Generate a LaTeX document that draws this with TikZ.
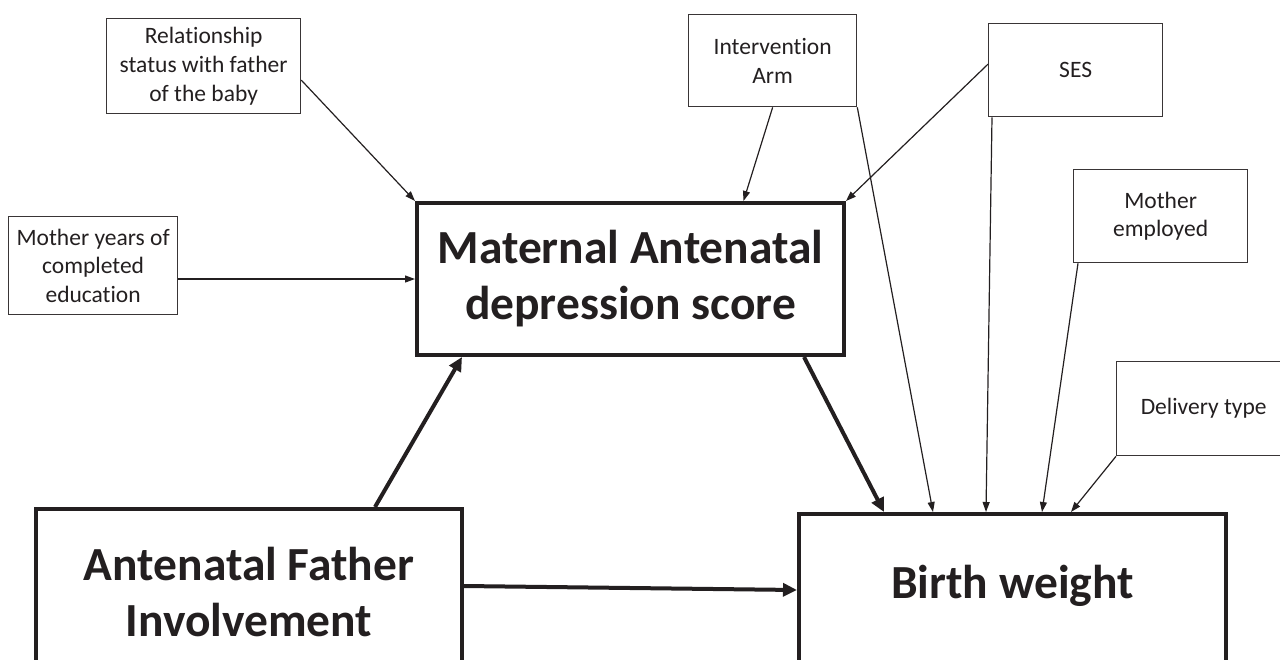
\documentclass[tikz,border=0pt]{standalone}
\usepackage{fontspec}
\setmainfont[Ligatures={NoCommon}]{Carlito}
\usetikzlibrary{arrows.meta,calc}
\definecolor{ink}{HTML}{231F20}
\tikzset{
  smallbox/.style={draw=ink!90, line width=1.3pt, text=ink, align=center, inner sep=0pt,
    font=\fontsize{23.5}{28.7}\selectfont, anchor=north west},
  bigbox/.style={draw=ink, line width=4pt, text=ink, align=center, inner sep=0pt,
    font=\fontsize{47.5}{56}\selectfont\bfseries, anchor=north west},
  thin/.style={draw=ink, line width=1.2pt, -{Triangle[length=10pt,width=7pt]}},
  thick/.style={draw=ink, line width=4pt, -{Triangle[length=14pt,width=13pt]}}
}
\begin{document}
\begin{tikzpicture}[x=1pt,y=-1pt]
\useasboundingbox (0,0) rectangle (1280,659);
% small boxes
\node[smallbox, minimum width=194pt, minimum height=95pt] (rel) at (106,18) {Relationship\\status with father\\of the baby};
\node[smallbox, minimum width=169pt, minimum height=98pt] (edu) at (8,216) {Mother years of\\completed\\education};
\node[smallbox, minimum width=168pt, minimum height=92pt] (int) at (688,14) {Intervention\\Arm};
\node[smallbox, minimum width=174pt, minimum height=93pt] (ses) at (988,23) {SES};
\node[smallbox, minimum width=174pt, minimum height=93pt] (emp) at (1073,169) {Mother\\employed};
\node[smallbox, minimum width=174pt, minimum height=94pt] (del) at (1116,361) {Delivery type};
% big boxes
\node[bigbox, minimum width=427pt, minimum height=152pt] (mat) at (415,201) {\raisebox{-5pt}{\parbox{420pt}{\centering Maternal Antenatal\\depression score}}};
\node[bigbox, minimum width=426pt, minimum height=166pt] (fat) at (34,507) {\raisebox{2pt}{\parbox{420pt}{\centering Antenatal Father\\Involvement}}};
\node[bigbox, minimum width=427pt, text height=84pt, text depth=100pt] (bw) at (797,512) {Birth weight};
% thin connectors
\draw[thin] ([yshift=-14pt]rel.east) -- (mat.north west);
\draw[thin] (edu.east |- mat.west) -- (mat.west);
\draw[thin] (int.south) -- ([xshift=113pt]mat.north);
\draw[thin] ([yshift=6pt]ses.west) -- (mat.north east);
\draw[thin] (int.south east) -- ([xshift=-79.5pt]bw.north);
\draw[thin] ([xshift=4pt]ses.south west) -- ([xshift=-26.5pt]bw.north);
\draw[thin] ([xshift=5pt]emp.south west) -- ([xshift=29.5pt]bw.north);
\draw[thin] (del.south west) -- ([xshift=58.5pt]bw.north);
% thick connectors
\draw[thick] ([xshift=173.5pt]mat.south) -- ([xshift=-128.5pt]bw.north);
\draw[thick] ([xshift=126pt]fat.north) -- ([xshift=-168.5pt]mat.south);
\draw[thick] ([yshift=6pt]fat.east) -- ([yshift=16pt]bw.west);
\end{tikzpicture}
\end{document}
